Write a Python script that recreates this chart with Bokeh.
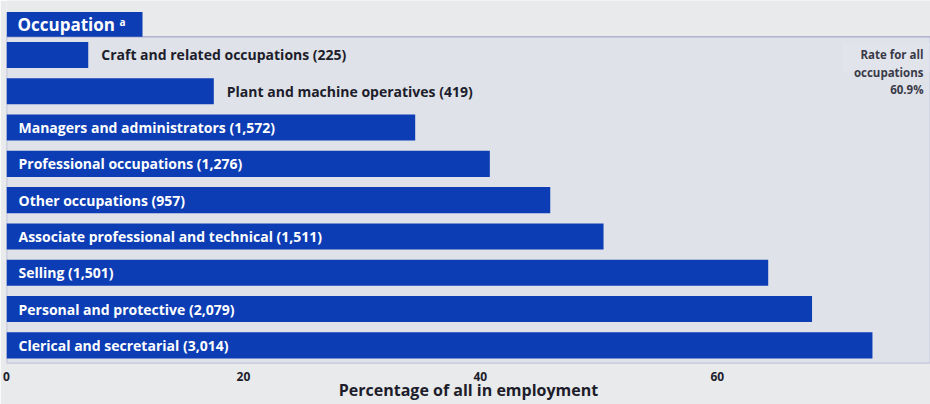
from bokeh.plotting import figure
from bokeh.models import Range1d, FactorRange, ColumnDataSource, Label, BoxAnnotation, FixedTicker
from bokeh.core.properties import value
from bokeh.embed import file_html
from bokeh.resources import INLINE

# ---- data ----
occupations = [
    "Craft and related occupations (225)",
    "Plant and machine operatives (419)",
    "Managers and administrators (1,572)",
    "Professional occupations (1,276)",
    "Other occupations (957)",
    "Associate professional and technical (1,511)",
    "Selling (1,501)",
    "Personal and protective (2,079)",
    "Clerical and secretarial (3,014)",
]
percentages = [6.9, 17.5, 34.5, 40.8, 45.9, 50.4, 64.3, 68.0, 73.1]
x_ticks = [0, 20, 40, 60, 80]
rate_all = "60.9%"
header = "Occupation"

BLUE = "#0c3db4"
DARK = "#1d1d2b"
FONT = "Open Sans"
PANEL = "#dfe2e9"
PAGE = "#e8eaeb"

inside = [v >= 25 for v in percentages]
src_in = ColumnDataSource(dict(
    y=[o for o, f in zip(occupations, inside) if f],
    x=[0 for f in inside if f],
))
src_out = ColumnDataSource(dict(
    y=[o for o, f in zip(occupations, inside) if not f],
    x=[v for v, f in zip(percentages, inside) if not f],
))
src = ColumnDataSource(dict(y=occupations, right=percentages))

n = len(occupations)
# one extra (empty) band on top holds the header tab
factors = list(reversed(occupations)) + [" "]

p = figure(
    width=930, height=404,
    x_range=Range1d(0, 78),
    y_range=FactorRange(*factors),
    output_backend="svg", toolbar_location=None,
    min_border_left=6, min_border_right=0, min_border_top=0, min_border_bottom=41,
)
p.background_fill_color = PAGE
p.border_fill_color = PAGE
p.outline_line_color = None
p.grid.visible = False
p.yaxis.visible = False

# chart panel
p.add_layout(BoxAnnotation(top=n, fill_color=PANEL, fill_alpha=1.0,
                           line_color="#3b3f95", line_width=1.5, level="underlay"))

p.hbar(y="y", right="right", left=0, height=0.72, source=src,
       fill_color=BLUE, line_color=None)

p.text(x="x", y="y", text="y", source=src_in, x_offset=12,
       text_color="white", text_font=value(FONT), text_font_style="bold",
       text_font_size="14px", text_baseline="middle", text_align="left")
p.text(x="x", y="y", text="y", source=src_out, x_offset=13,
       text_color=DARK, text_font=value(FONT), text_font_style="bold",
       text_font_size="14px", text_baseline="middle", text_align="left")

ax = p.xaxis[0]
ax.ticker = FixedTicker(ticks=x_ticks)
ax.axis_line_color = None
ax.major_tick_line_color = None
ax.minor_tick_line_color = None
ax.major_tick_out = 0
ax.major_tick_in = 0
ax.major_label_standoff = 8
ax.major_label_text_font = FONT
ax.major_label_text_font_style = "bold"
ax.major_label_text_font_size = "12px"
ax.major_label_text_color = DARK
ax.axis_label = "Percentage of all in employment"
ax.axis_label_standoff = -5
ax.axis_label_text_font = FONT
ax.axis_label_text_font_style = "bold"
ax.axis_label_text_font_size = "16px"
ax.axis_label_text_color = DARK

# header tab
p.add_layout(BoxAnnotation(left=0, right=136, left_units="screen", right_units="screen",
                           bottom=n, top=n + 0.68,
                           fill_color=BLUE, fill_alpha=1.0, line_color=None))
p.add_layout(Label(x=11, y=n + 0.33, x_units="screen",
                   text=header, text_font=FONT, text_font_style="bold",
                   text_font_size="17px", text_color="white",
                   text_align="left", text_baseline="middle"))
p.add_layout(Label(x=113, y=n + 0.42, x_units="screen",
                   text="a", text_font=FONT, text_font_style="bold",
                   text_font_size="10px", text_color="white",
                   text_align="left", text_baseline="middle"))

# rate for all occupations note
p.add_layout(BoxAnnotation(left=836, right=924, left_units="screen", right_units="screen",
                           bottom=n - 0.98, top=n - 0.17,
                           fill_color="#e6e7f0", fill_alpha=0.45, line_color=None))
p.add_layout(Label(x=917, y=n - 0.29, x_units="screen",
                   text="Rate for all\noccupations\n" + rate_all,
                   text_font=FONT, text_font_style="bold", text_font_size="11.5px",
                   text_color="#3a3a48", text_align="right", text_baseline="top",
                   text_line_height=1.15))

open("out.html", "w").write(file_html(p, INLINE))
